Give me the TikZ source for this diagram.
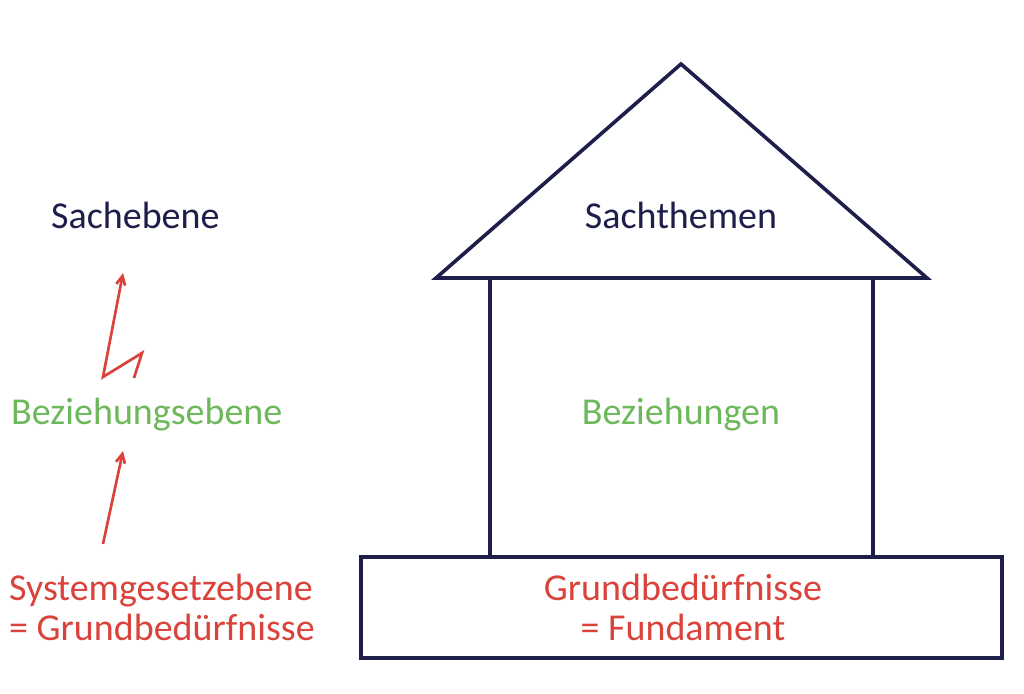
\documentclass[tikz,border=0pt]{standalone}
\usepackage{fontspec}
\setmainfont{Carlito}
\usetikzlibrary{arrows.meta}
\definecolor{navy}{HTML}{1E1E4B}
\definecolor{lgreen}{HTML}{6DB85A}
\definecolor{lred}{HTML}{D9433B}
\begin{document}
\begin{tikzpicture}[x=1pt,y=-1pt,
  house/.style={draw=navy,line width=3.6pt,line join=miter},
  lbl/.style={font=\fontsize{38}{40}\selectfont,inner sep=0pt,align=center},
  leftlbl/.style={lbl,anchor=west,align=left},
  redarrow/.style={draw=lred,line width=2.7pt,-{Straight Barb[length=9pt,width=9pt,line width=2.7pt]}}]
\useasboundingbox (0,0) rectangle (1024,693);
% house
\coordinate (apex) at (681,64);
\coordinate (roofL) at (436,278);
\coordinate (roofR) at (927,278);
\draw[house] (apex) -- (roofR) -- (roofL) -- cycle;
\draw[house] (490,278) -- (490,557);
\draw[house] (873,278) -- (873,557);
\draw[house] (361,557) rectangle (1002,658);
% house labels
\node[lbl,text=navy] (sachthemen) at (681,215) {Sachthemen};
\node[lbl,text=lgreen] (bez) at (681,415) {Beziehungen};
\node[lbl,text=lred] (grund) at (683,607) {Grundbedürfnisse\\= Fundament};
% left labels
\node[leftlbl,text=navy] (sachebene) at (51,215) {Sachebene};
\node[leftlbl,text=lgreen] (bezebene) at (11,415) {Beziehungsebene};
\node[leftlbl,text=lred] (sys) at (9,607) {Systemgesetzebene\\= Grundbedürfnisse};
% arrows
\coordinate (l1) at (134,378);
\coordinate (l2) at (142,353);
\coordinate (l3) at (103,377);
\coordinate (l4) at (123,273);
\draw[redarrow,line join=miter] (l1) -- (l2) -- (l3) -- (l4);
\coordinate (a1) at (103,544);
\coordinate (a2) at (123,451);
\draw[redarrow] (a1) -- (a2);
\end{tikzpicture}
\end{document}
